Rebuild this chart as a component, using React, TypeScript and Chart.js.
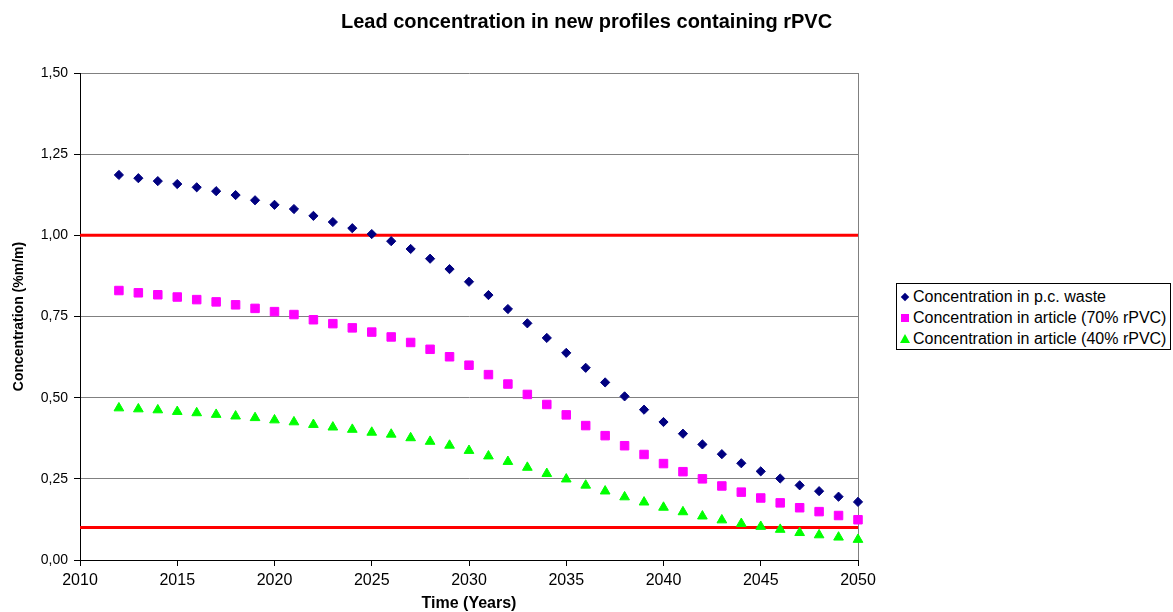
import React, { useEffect, useRef } from "react";
import { Chart, registerables } from "chart.js";

Chart.register(...registerables);

const chartTitle = "Lead concentration in new profiles containing rPVC";
const xAxisTitle = "Time (Years)";
const yAxisTitle = "Concentration (%m/m)";

const years = [
  2012, 2013, 2014, 2015, 2016, 2017, 2018, 2019, 2020, 2021, 2022, 2023, 2024,
  2025, 2026, 2027, 2028, 2029, 2030, 2031, 2032, 2033, 2034, 2035, 2036, 2037,
  2038, 2039, 2040, 2041, 2042, 2043, 2044, 2045, 2046, 2047, 2048, 2049, 2050,
];

const wasteConc = [
  1.186, 1.176, 1.167, 1.158, 1.148, 1.136, 1.124, 1.108, 1.094, 1.081, 1.06,
  1.041, 1.022, 1.004, 0.982, 0.958, 0.928, 0.896, 0.857, 0.816, 0.773, 0.729,
  0.684, 0.638, 0.592, 0.547, 0.504, 0.463, 0.425, 0.389, 0.356, 0.326, 0.298,
  0.273, 0.251, 0.23, 0.212, 0.195, 0.179,
];

const article70Conc = [
  0.83, 0.823, 0.817, 0.81, 0.802, 0.795, 0.786, 0.775, 0.765, 0.756, 0.74,
  0.728, 0.715, 0.702, 0.687, 0.67, 0.649, 0.626, 0.6, 0.571, 0.542, 0.51,
  0.479, 0.447, 0.414, 0.383, 0.352, 0.325, 0.297, 0.272, 0.25, 0.228, 0.209,
  0.191, 0.176, 0.161, 0.149, 0.137, 0.124,
];

const article40Conc = [
  0.468, 0.465, 0.462, 0.457, 0.453, 0.448, 0.443, 0.438, 0.431, 0.425, 0.417,
  0.409, 0.402, 0.393, 0.387, 0.376, 0.365, 0.353, 0.337, 0.32, 0.303, 0.285,
  0.266, 0.249, 0.23, 0.212, 0.194, 0.178, 0.162, 0.148, 0.135, 0.123, 0.112,
  0.103, 0.094, 0.084, 0.077, 0.07, 0.063,
];

const seriesNames = [
  "Concentration in p.c. waste",
  "Concentration in article (70% rPVC)",
  "Concentration in article (40% rPVC)",
];

const limitYears = [2010, 2050];
const upperLimit = [1.0, 1.0];
const lowerLimit = [0.1, 0.1];

const xMin = 2010;
const xMax = 2050;
const xStep = 5;
const yMin = 0;
const yMax = 1.5;
const yStep = 0.25;

const FONT = "'Liberation Sans', Arial, Helvetica, sans-serif";

const toPoints = (xs: number[], ys: number[]) =>
  xs.map((x, i) => ({ x, y: ys[i] }));

const rightBorderPlugin = {
  id: "rightBorder",
  beforeDatasetsDraw(chart: any) {
    const { ctx, chartArea } = chart;
    ctx.save();
    ctx.strokeStyle = "#808080";
    ctx.lineWidth = 1;
    ctx.beginPath();
    const x = Math.round(chartArea.right) + 0.5;
    ctx.moveTo(x, chartArea.top);
    ctx.lineTo(x, chartArea.bottom);
    ctx.stroke();
    ctx.restore();
  },
};

const pageTitlePlugin = {
  id: "pageTitle",
  afterDraw(chart: any) {
    const { ctx } = chart;
    ctx.save();
    ctx.fillStyle = "#000";
    ctx.font = "bold 20px " + FONT;
    ctx.textAlign = "center";
    ctx.textBaseline = "alphabetic";
    ctx.fillText(chartTitle, chart.width / 2, 28);
    ctx.restore();
  },
};

export default function App() {
  const canvasRef = useRef<HTMLCanvasElement | null>(null);

  useEffect(() => {
    if (!canvasRef.current) return;
    Chart.defaults.font.family = FONT;
    const chart = new Chart(canvasRef.current, {
      type: "scatter",
      data: {
        datasets: [
          {
            label: seriesNames[0],
            data: toPoints(years, wasteConc),
            pointStyle: "rectRot",
            pointRadius: 4.6,
            pointBorderWidth: 1,
            backgroundColor: "#000080",
            borderColor: "#000080",
            showLine: false,
            clip: false,
            order: 1,
          },
          {
            label: seriesNames[1],
            data: toPoints(years, article70Conc),
            pointStyle: "rect",
            pointRadius: 6,
            pointBorderWidth: 1,
            backgroundColor: "#FF00FF",
            borderColor: "#FF00FF",
            showLine: false,
            clip: false,
            order: 2,
          },
          {
            label: seriesNames[2],
            data: toPoints(years, article40Conc),
            pointStyle: "triangle",
            pointRadius: 5.6,
            pointBorderWidth: 1,
            backgroundColor: "#00FF00",
            borderColor: "#00FF00",
            showLine: false,
            clip: false,
            order: 3,
          },
          {
            label: "upper limit",
            data: toPoints(limitYears, upperLimit),
            showLine: true,
            borderColor: "#FF0000",
            borderWidth: 3,
            pointRadius: 0,
            order: 10,
          },
          {
            label: "lower limit",
            data: toPoints(limitYears, lowerLimit),
            showLine: true,
            borderColor: "#FF0000",
            borderWidth: 3,
            pointRadius: 0,
            order: 10,
          },
        ],
      },
      options: {
        animation: false,
        responsive: true,
        maintainAspectRatio: false,
        layout: { padding: { left: 0, right: 315, top: 73, bottom: 0 } },
        plugins: {
          legend: { display: false },
          tooltip: { enabled: false },
          title: { display: false },
        },
        scales: {
          x: {
            type: "linear",
            min: xMin,
            max: xMax,
            afterFit: (scale: any) => {
              scale.height = 52;
            },
            ticks: {
              stepSize: xStep,
              autoSkip: false,
              maxRotation: 0,
              color: "#000",
              padding: 5,
              font: { family: FONT, size: 16 },
              callback: (v: any) => String(v),
            },
            grid: {
              drawOnChartArea: false,
              tickLength: 6,
              color: "#000",
              tickColor: "#000",
            },
            border: { color: "#000", width: 1 },
            title: {
              display: true,
              text: xAxisTitle,
              color: "#000",
              font: { family: FONT, size: 16, weight: "bold", lineHeight: 1 },
              padding: { top: 0, bottom: 0 },
            },
          },
          y: {
            type: "linear",
            min: yMin,
            max: yMax,
            afterFit: (scale: any) => {
              scale.width = 80;
            },
            ticks: {
              stepSize: yStep,
              color: "#000",
              padding: 6,
              font: { family: FONT, size: 14 },
              callback: (v: any) => Number(v).toFixed(2).replace(".", ","),
            },
            grid: {
              color: "#808080",
              tickColor: "#000",
              tickLength: 6,
              lineWidth: 1,
            },
            border: { color: "#000", width: 1 },
            title: {
              display: true,
              text: yAxisTitle,
              color: "#000",
              font: { family: FONT, size: 14, weight: "bold" },
              padding: { top: 11, bottom: 0 },
            },
          },
        },
      },
      plugins: [rightBorderPlugin, pageTitlePlugin],
    });
    return () => chart.destroy();
  }, []);

  const legendColors = ["#000080", "#FF00FF", "#00FF00"];
  const marker = (i: number) => {
    if (i === 0)
      return (
        <span
          style={{
            display: "inline-block",
            width: 6,
            height: 6,
            background: legendColors[0],
            transform: "rotate(45deg)",
          }}
        />
      );
    if (i === 1)
      return (
        <span
          style={{
            display: "inline-block",
            width: 8,
            height: 8,
            background: legendColors[1],
          }}
        />
      );
    return (
      <span
        style={{
          display: "inline-block",
          width: 0,
          height: 0,
          borderLeft: "5px solid transparent",
          borderRight: "5px solid transparent",
          borderBottom: "9px solid " + legendColors[2],
        }}
      />
    );
  };

  return (
    <div
      style={{
        position: "fixed",
        left: 0,
        top: 0,
        width: 1173,
        height: 612,
        background: "#fff",
      }}
    >
      <canvas ref={canvasRef} />
      <div
        style={{
          position: "absolute",
          left: 896,
          top: 283,
          width: 275,
          height: 67,
          boxSizing: "border-box",
          border: "1px solid #000",
          background: "#fff",
          fontFamily: FONT,
          fontSize: 16,
          color: "#000",
          paddingTop: 2,
        }}
      >
        {seriesNames.map((name, i) => (
          <div
            key={name}
            style={{
              height: 21,
              display: "flex",
              alignItems: "center",
              whiteSpace: "nowrap",
            }}
          >
            <span
              style={{
                width: 16,
                display: "flex",
                justifyContent: "center",
                alignItems: "center",
              }}
            >
              {marker(i)}
            </span>
            <span>{name}</span>
          </div>
        ))}
      </div>
    </div>
  );
}
